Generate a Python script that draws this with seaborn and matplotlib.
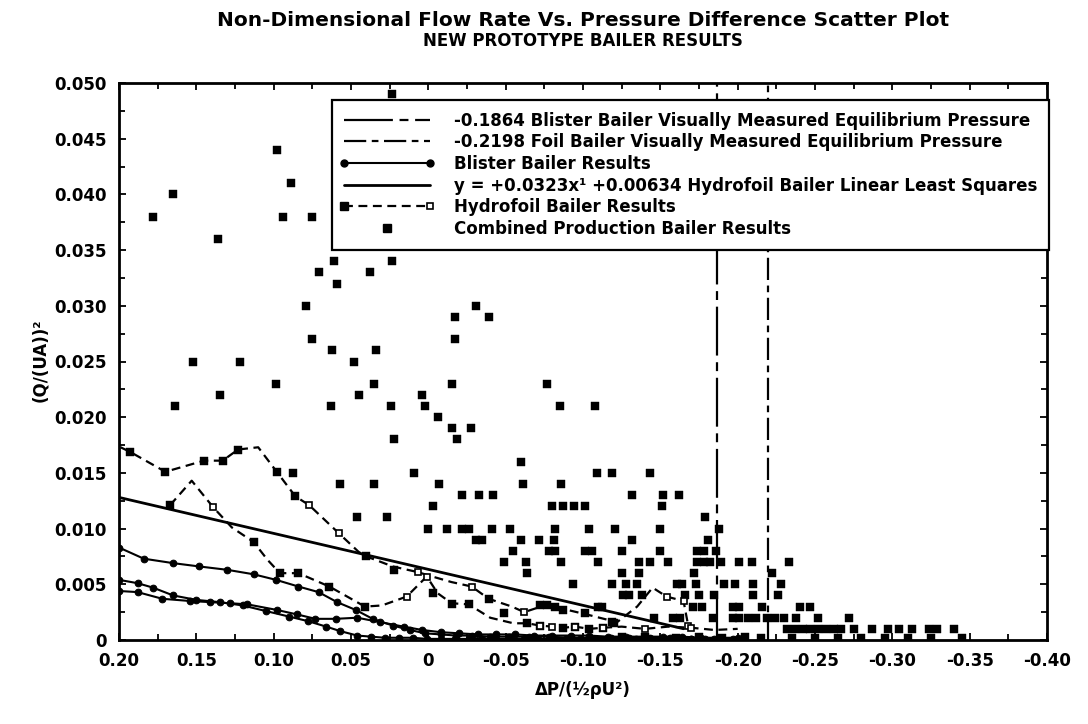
import matplotlib
matplotlib.use("Agg")
import matplotlib.pyplot as plt
from matplotlib.lines import Line2D
from matplotlib.legend_handler import HandlerBase
from matplotlib.ticker import MultipleLocator
import seaborn as sns
import pandas as pd

# ---------------- data ----------------
TITLE = "Non-Dimensional Flow Rate Vs. Pressure Difference Scatter Plot"
SUBTITLE = "NEW PROTOTYPE BAILER RESULTS"
X_LABEL = "ΔP/(½ρU²)"
Y_LABEL = "(Q/(UA))²"

X_TICKS = [0.20, 0.15, 0.10, 0.05, 0.0, -0.05, -0.10, -0.15, -0.20, -0.25, -0.30, -0.35, -0.40]
X_TICK_LABELS = ["0.20", "0.15", "0.10", "0.05", "0", "-0.05", "-0.10", "-0.15",
                 "-0.20", "-0.25", "-0.30", "-0.35", "-0.40"]
Y_TICKS = [0.0, 0.005, 0.010, 0.015, 0.020, 0.025, 0.030, 0.035, 0.040, 0.045, 0.050]
Y_TICK_LABELS = ["0", "0.005", "0.010", "0.015", "0.020", "0.025", "0.030", "0.035",
                 "0.040", "0.045", "0.050"]

# visually measured equilibrium pressures
EQ_BLISTER = -0.1864
EQ_FOIL = -0.2198

# hydrofoil linear least squares fit
LSQ_SLOPE = 0.0323
LSQ_INTERCEPT = 0.00634
LSQ_X = [0.20, -0.165]

# blister bailer runs
B1_X = [0.200, 0.184, 0.165, 0.148, 0.130, 0.113, 0.0985, 0.084, 0.071, 0.059, 0.047, 0.036,
        0.023, 0.012, 0.002, -0.008, -0.018, -0.028, -0.040, -0.052, -0.065, -0.078, -0.092,
        -0.105, -0.118, -0.130, -0.143, -0.156, -0.170, -0.185]
B1_Y = [0.0083, 0.0073, 0.0069, 0.0066, 0.0063, 0.0059, 0.0054, 0.0048, 0.0043, 0.0034, 0.0027,
        0.0019, 0.0013, 0.0009, 0.0006, 0.0005, 0.0004, 0.0004, 0.0003, 0.0003, 0.0003, 0.0003,
        0.0002, 0.0002, 0.0002, 0.0002, 0.0002, 0.0002, 0.0001, 0.0001]
B2_X = [0.200, 0.188, 0.178, 0.165, 0.150, 0.135, 0.120, 0.105, 0.090, 0.078, 0.066, 0.057,
        0.046, 0.037, 0.028, 0.019, 0.010, 0.001, -0.008, -0.017, -0.026, -0.035, -0.044,
        -0.053, -0.062, -0.071, -0.080, -0.089, -0.098, -0.107, -0.116, -0.125, -0.134,
        -0.143, -0.152, -0.161, -0.170, -0.179, -0.188, -0.197]
B2_Y = [0.0054, 0.0051, 0.0047, 0.0040, 0.0036, 0.0034, 0.0031, 0.0026, 0.0021, 0.0017, 0.0012,
        0.0008, 0.0004, 0.0003, 0.0002, 0.0002, 0.0002, 0.0001, 0.0001, 0.0001, 0.0001, 0.0001,
        0.0001, 0.0001, 0.0001, 0.0001, 0.0001, 0.0001, 0.0001, 0.0001, 0.0001, 0.0001, 0.0001,
        0.0001, 0.0001, 0.0001, 0.0001, 0.0001, 0.0001, 0.0001]
B3_X = [0.200, 0.188, 0.172, 0.154, 0.141, 0.128, 0.117, 0.098, 0.085, 0.073, 0.060, 0.046,
        0.031, 0.016, 0.004, -0.008, -0.020, -0.032, -0.044, -0.056, -0.068, -0.080, -0.092,
        -0.104, -0.116, -0.128, -0.140, -0.152, -0.164, -0.176, -0.188, -0.200]
B3_Y = [0.0044, 0.0043, 0.0037, 0.0035, 0.0034, 0.0033, 0.0032, 0.0027, 0.0023, 0.0019, 0.0019,
        0.0020, 0.0016, 0.0012, 0.0009, 0.0007, 0.0006, 0.0005, 0.0005, 0.0005, 0.0004, 0.0004,
        0.0004, 0.0004, 0.0003, 0.0003, 0.0003, 0.0003, 0.0003, 0.0002, 0.0002, 0.0002]

# hydrofoil bailer runs
H1_X = [0.199, 0.193, 0.170, 0.145, 0.133, 0.123, 0.110, 0.098, 0.086, 0.077, 0.058, 0.045,
        0.040, 0.023, 0.007, -0.005, -0.015, -0.028, -0.039, -0.054, -0.062, -0.075, -0.090,
        -0.105, -0.122, -0.135, -0.145, -0.154, -0.165, -0.168]
H1_Y = [0.0173, 0.0169, 0.0151, 0.0161, 0.0161, 0.0171, 0.0173, 0.0151, 0.0129, 0.0121, 0.0096,
        0.0079, 0.0075, 0.0066, 0.0061, 0.0056, 0.0052, 0.0048, 0.0037, 0.0030, 0.0025, 0.0031,
        0.0027, 0.0022, 0.0016, 0.0030, 0.0047, 0.0039, 0.0035, 0.0013]
H1_OPEN = [9, 10, 14, 17, 20, 27, 28, 29]
H2_X = [0.167, 0.153, 0.139, 0.127, 0.113, 0.104, 0.096, 0.084, 0.064, 0.041, 0.030, 0.014,
        0.001, -0.006, -0.015, -0.026, -0.040, -0.055, -0.064, -0.072, -0.080, -0.087, -0.095,
        -0.104, -0.113, -0.125, -0.140, -0.155, -0.170, -0.185, -0.200]
H2_Y = [0.0121, 0.0143, 0.0119, 0.0101, 0.0088, 0.0072, 0.0060, 0.0060, 0.0048, 0.0030, 0.0031,
        0.0039, 0.0057, 0.0042, 0.0033, 0.0032, 0.0020, 0.0015, 0.0015, 0.0013, 0.0012, 0.0011,
        0.0012, 0.0010, 0.0011, 0.0012, 0.0010, 0.0012, 0.0011, 0.0009, 0.0010]
H2_OPEN = [2, 11, 12, 19, 20, 22, 24, 26, 28]

# combined production bailer results
C_X = [0.0235, 0.098, 0.089, 0.165, 0.178, 0.094, 0.075, 0.136, 0.061, 0.0235, 0.071, 0.038,
       0.059, 0.079, -0.031, -0.017, -0.039, 0.075, -0.017, 0.062, 0.034, 0.152, 0.122, 0.048,
       0.0985, 0.035, -0.015, -0.077, 0.135, 0.045, 0.004, 0.164, 0.063, 0.024, 0.002, -0.085,
       -0.108, -0.006, -0.015, -0.0275, 0.022, -0.0185, -0.060,
       0.009, -0.109, -0.119, -0.143, 0.057, 0.035, -0.007, -0.061, -0.086,
       -0.022, -0.033, -0.042, -0.132, -0.152, -0.162,
       -0.003, -0.080, -0.087, -0.094, -0.101, -0.151,
       0.046, 0.027, -0.179,
       0.000, -0.012, -0.022, -0.026, -0.041, -0.053, -0.082, -0.104, -0.121, -0.150, -0.188,
       -0.031, -0.035, -0.060, -0.0715, -0.081, -0.132, -0.181,
       -0.055, -0.078, -0.082, -0.101, -0.106, -0.125, -0.150, -0.174, -0.178, -0.186,
       -0.049, -0.063, -0.086, -0.110, -0.136, -0.143, -0.155, -0.174, -0.178, -0.182, -0.189,
       -0.201, -0.209, -0.233,
       -0.064, -0.125, -0.136, -0.172, -0.222,
       -0.0935, -0.119, -0.128, -0.135, -0.161, -0.164, -0.173, -0.191, -0.198, -0.210, -0.228,
       -0.126, -0.130, -0.138, -0.166, -0.175, -0.185, -0.210, -0.226,
       -0.112, -0.171, -0.177, -0.197, -0.201, -0.216, -0.240, -0.247,
       -0.146, -0.158, -0.163, -0.184, -0.197, -0.201, -0.207, -0.212, -0.219, -0.224, -0.230,
       -0.238, -0.252, -0.272,
       -0.232, -0.237, -0.242, -0.247, -0.252, -0.257, -0.262, -0.267, -0.275, -0.287, -0.297,
       -0.304, -0.313, -0.324, -0.329, -0.340,
       -0.125, -0.140, -0.160, -0.175, -0.190, -0.205, -0.215, -0.235, -0.250, -0.265, -0.280,
       -0.295, -0.310, -0.325, -0.345,
       0.193, 0.170, 0.145, 0.133, 0.123, 0.098, 0.0875, 0.086, 0.167, 0.113, 0.096, 0.084,
       0.064, 0.041, 0.040, 0.022, -0.003,
       -0.015, -0.026, -0.039, -0.049, -0.072, -0.077, -0.082, -0.087, -0.101, -0.110, -0.119,
       -0.064, -0.072, -0.087, -0.095, -0.104, -0.113, -0.120]
C_Y = [0.049, 0.044, 0.041, 0.040, 0.038, 0.038, 0.038, 0.036, 0.034, 0.034, 0.033, 0.033,
       0.032, 0.030, 0.030, 0.029, 0.029, 0.027, 0.027, 0.026, 0.026, 0.025, 0.025, 0.025,
       0.023, 0.023, 0.023, 0.023, 0.022, 0.022, 0.022, 0.021, 0.021, 0.021, 0.021, 0.021,
       0.021, 0.020, 0.019, 0.019, 0.018, 0.018, 0.016,
       0.015, 0.015, 0.015, 0.015, 0.014, 0.014, 0.014, 0.014, 0.014,
       0.013, 0.013, 0.013, 0.013, 0.013, 0.013,
       0.012, 0.012, 0.012, 0.012, 0.012, 0.012,
       0.011, 0.011, 0.011,
       0.010, 0.010, 0.010, 0.010, 0.010, 0.010, 0.010, 0.010, 0.010, 0.010, 0.010,
       0.009, 0.009, 0.009, 0.009, 0.009, 0.009, 0.009,
       0.008, 0.008, 0.008, 0.008, 0.008, 0.008, 0.008, 0.008, 0.008, 0.008,
       0.007, 0.007, 0.007, 0.007, 0.007, 0.007, 0.007, 0.007, 0.007, 0.007, 0.007,
       0.007, 0.007, 0.007,
       0.006, 0.006, 0.006, 0.006, 0.006,
       0.005, 0.005, 0.005, 0.005, 0.005, 0.005, 0.005, 0.005, 0.005, 0.005, 0.005,
       0.004, 0.004, 0.004, 0.004, 0.004, 0.004, 0.004, 0.004,
       0.003, 0.003, 0.003, 0.003, 0.003, 0.003, 0.003, 0.003,
       0.002, 0.002, 0.002, 0.002, 0.002, 0.002, 0.002, 0.002, 0.002, 0.002, 0.002,
       0.002, 0.002, 0.002,
       0.001, 0.001, 0.001, 0.001, 0.001, 0.001, 0.001, 0.001, 0.001, 0.001, 0.001,
       0.001, 0.001, 0.001, 0.001, 0.001,
       0.0003, 0.0003, 0.0002, 0.0003, 0.0002, 0.0003, 0.0002, 0.0002, 0.0002, 0.0002, 0.0002,
       0.0002, 0.0002, 0.0002, 0.0002,
       0.0169, 0.0151, 0.0161, 0.0161, 0.0171, 0.0151, 0.0150, 0.0129, 0.0121, 0.0088, 0.0060,
       0.0060, 0.0048, 0.0030, 0.0075, 0.0063, 0.0042,
       0.0032, 0.0032, 0.0037, 0.0024, 0.0031, 0.0031, 0.0030, 0.0027, 0.0024, 0.0030, 0.0016,
       0.0015, 0.0013, 0.0011, 0.0012, 0.0010, 0.0011, 0.0015]

LEGEND_LABELS = [
    "-0.1864 Blister Bailer Visually Measured Equilibrium Pressure",
    "-0.2198 Foil Bailer Visually Measured Equilibrium Pressure",
    "Blister Bailer Results",
    "y = +0.0323x¹ +0.00634 Hydrofoil Bailer Linear Least Squares",
    "Hydrofoil Bailer Results",
    "Combined Production Bailer Results",
]

# ---------------- style ----------------
sns.set_style("ticks")
plt.rcParams["font.family"] = ["DejaVu Sans"]
plt.rcParams["font.weight"] = "bold"
plt.rcParams["axes.labelweight"] = "bold"
plt.rcParams["text.color"] = "black"
plt.rcParams["axes.labelcolor"] = "black"
plt.rcParams["xtick.color"] = "black"
plt.rcParams["ytick.color"] = "black"
plt.rcParams["axes.edgecolor"] = "black"

BLISTER_STYLE = (0, (22, 3, 4, 3))
FOIL_STYLE = (0, (10, 2.5, 3, 2.5))
HYDRO_DASH = (0, (4, 2.5))

fig = plt.figure(figsize=(10.88, 7.24), dpi=100)
ax = fig.add_axes([119 / 1088, 1 - 640 / 724, (1047 - 119) / 1088, (640 - 83) / 724])

# equilibrium pressure markers
ax.axvline(EQ_BLISTER, color="k", lw=1.6, linestyle=BLISTER_STYLE, zorder=2)
ax.axvline(EQ_FOIL, color="k", lw=1.6, linestyle=FOIL_STYLE, zorder=2)

# combined production scatter
combined = pd.DataFrame({"dp": C_X, "q": C_Y})
sns.scatterplot(data=combined, x="dp", y="q", ax=ax, marker="s", s=36, color="k",
                edgecolor="k", linewidth=0.3, legend=False, zorder=3)

# blister runs
for bx, by in [(B1_X, B1_Y), (B2_X, B2_Y), (B3_X, B3_Y)]:
    sns.lineplot(x=bx, y=by, ax=ax, sort=False, estimator=None, color="k", lw=1.5,
                 marker="o", markersize=4.8, markeredgecolor="k", markerfacecolor="k",
                 zorder=4)

# hydrofoil runs
for hx, hy, hopen in [(H1_X, H1_Y, H1_OPEN), (H2_X, H2_Y, H2_OPEN)]:
    sns.lineplot(x=hx, y=hy, ax=ax, sort=False, estimator=None, color="k", lw=1.6,
                 linestyle=HYDRO_DASH, marker="s", markersize=5, markevery=hopen,
                 markerfacecolor="w", markeredgecolor="k", markeredgewidth=1.2, zorder=4)

# least squares fit
lsq_y = [LSQ_SLOPE * x + LSQ_INTERCEPT for x in LSQ_X]
sns.lineplot(x=LSQ_X, y=lsq_y, ax=ax, sort=False, estimator=None, color="k", lw=2.0, zorder=4)

# axes
ax.set_xlim(0.20, -0.40)
ax.set_ylim(0, 0.050)
ax.set_xticks(X_TICKS)
ax.set_xticklabels(X_TICK_LABELS)
ax.set_yticks(Y_TICKS)
ax.set_yticklabels(Y_TICK_LABELS)
ax.xaxis.set_minor_locator(MultipleLocator(0.025))
ax.yaxis.set_minor_locator(MultipleLocator(0.0025))
ax.tick_params(which="both", direction="in", top=True, right=True, width=1.3, color="k",
               labelcolor="k", labelsize=12, pad=9)
ax.tick_params(which="major", length=5)
ax.tick_params(which="minor", length=4)
for lab in ax.get_xticklabels() + ax.get_yticklabels():
    lab.set_fontweight("bold")
for sp in ax.spines.values():
    sp.set_linewidth(2.0)
    sp.set_color("k")
ax.set_xlabel("")
ax.set_ylabel("")

fig.text(583 / 1088, 1 - 20 / 724, TITLE, ha="center", va="center", fontsize=14.5,
         fontweight="bold", color="k")
fig.text(583 / 1088, 1 - 41 / 724, SUBTITLE, ha="center", va="center", fontsize=12,
         fontweight="bold", color="k")
fig.text(583 / 1088, 1 - 690 / 724, X_LABEL, ha="center", va="center", fontsize=12,
         fontweight="bold", color="k")
fig.text(40 / 1088, 1 - 360 / 724, Y_LABEL, ha="center", va="center", rotation=90,
         fontsize=12, fontweight="bold", color="k")


# legend symbol: dashed run with a filled square at the start, open square at the end
class HydroHandler(HandlerBase):
    def create_artists(self, legend, orig_handle, xdescent, ydescent, width, height,
                       fontsize, trans):
        y = height / 2 - ydescent
        x0, x1 = -xdescent, width - xdescent
        line = Line2D([x0, x1], [y, y], color="k", lw=1.6, linestyle=HYDRO_DASH)
        left = Line2D([x0], [y], marker="s", markersize=6, color="k", linestyle="none")
        right = Line2D([x1], [y], marker="s", markersize=5, markerfacecolor="w",
                       markeredgecolor="k", markeredgewidth=1.2, linestyle="none")
        for a in (line, left, right):
            a.set_transform(trans)
        return [line, left, right]


class BlisterHandler(HandlerBase):
    def create_artists(self, legend, orig_handle, xdescent, ydescent, width, height,
                       fontsize, trans):
        y = height / 2 - ydescent
        x0, x1 = -xdescent, width - xdescent
        line = Line2D([x0, x1], [y, y], color="k", lw=1.5, marker="o", markersize=5,
                      markerfacecolor="k", markeredgecolor="k")
        line.set_transform(trans)
        return [line]


h_blister_eq = Line2D([], [], color="k", lw=1.6, linestyle=BLISTER_STYLE)
h_foil_eq = Line2D([], [], color="k", lw=1.6, linestyle=FOIL_STYLE)
h_blister = Line2D([], [], color="k")
h_lsq = Line2D([], [], color="k", lw=2.0)
h_hydro = Line2D([], [], color="k")
h_comb = Line2D([], [], color="k", marker="s", markersize=6, linestyle="none")

leg = ax.legend([h_blister_eq, h_foil_eq, h_blister, h_lsq, h_hydro, h_comb], LEGEND_LABELS,
                loc="upper left", bbox_to_anchor=(332 / 1088, 1 - 100 / 724),
                bbox_transform=fig.transFigure, borderaxespad=0, frameon=True, fancybox=False,
                framealpha=1, edgecolor="k", handlelength=5.2,
                handletextpad=1.4, labelspacing=0.22, borderpad=0.7, numpoints=1,
                handler_map={h_hydro: HydroHandler(), h_blister: BlisterHandler()},
                prop={"weight": "bold", "size": 12})
leg.get_frame().set_linewidth(1.6)
for t in leg.get_texts():
    t.set_color("k")
leg.set_zorder(10)

fig.savefig("out.png", dpi=100)
